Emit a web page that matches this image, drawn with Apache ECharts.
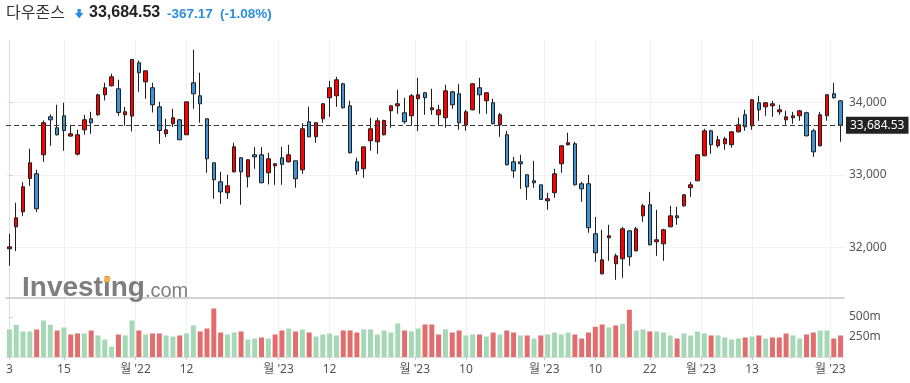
<!DOCTYPE html>
<html><head><meta charset="utf-8">
<script src="https://cdn.jsdelivr.net/npm/echarts@6/dist/echarts.min.js"></script>
<style>html,body{margin:0;padding:0;background:#fff}#c{width:910px;height:383px}</style>
</head><body><div id="c"></div>
<script>
// ---------- data ----------
const dates = [
'2022-11-03','2022-11-04','2022-11-07','2022-11-08','2022-11-09','2022-11-10','2022-11-11','2022-11-14','2022-11-15','2022-11-16','2022-11-17','2022-11-18','2022-11-21','2022-11-22','2022-11-23','2022-11-25','2022-11-28','2022-11-29','2022-11-30',
'2022-12-01','2022-12-02','2022-12-05','2022-12-06','2022-12-07','2022-12-08','2022-12-09','2022-12-12','2022-12-13','2022-12-14','2022-12-15','2022-12-16','2022-12-19','2022-12-20','2022-12-21','2022-12-22','2022-12-23','2022-12-27','2022-12-28','2022-12-29','2022-12-30',
'2023-01-03','2023-01-04','2023-01-05','2023-01-06','2023-01-09','2023-01-10','2023-01-11','2023-01-12','2023-01-13','2023-01-17','2023-01-18','2023-01-19','2023-01-20','2023-01-23','2023-01-24','2023-01-25','2023-01-26','2023-01-27','2023-01-30','2023-01-31',
'2023-02-01','2023-02-02','2023-02-03','2023-02-06','2023-02-07','2023-02-08','2023-02-09','2023-02-10','2023-02-13','2023-02-14','2023-02-15','2023-02-16','2023-02-17','2023-02-21','2023-02-22','2023-02-23','2023-02-24','2023-02-27','2023-02-28',
'2023-03-01','2023-03-02','2023-03-03','2023-03-06','2023-03-07','2023-03-08','2023-03-09','2023-03-10','2023-03-13','2023-03-14','2023-03-15','2023-03-16','2023-03-17','2023-03-20','2023-03-21','2023-03-22','2023-03-23','2023-03-24','2023-03-27','2023-03-28','2023-03-29','2023-03-30','2023-03-31',
'2023-04-03','2023-04-04','2023-04-05','2023-04-06','2023-04-10','2023-04-11','2023-04-12','2023-04-13','2023-04-14','2023-04-17','2023-04-18','2023-04-19','2023-04-20','2023-04-21','2023-04-24','2023-04-25','2023-04-26','2023-04-27','2023-04-28',
'2023-05-01','2023-05-02'];

const opens = [31979,32282,32489,32949,33014,33276,33800,33649,33814,33534,33285,33621,33773,33828,34104,34228,34187,33828,33810,
34546,34283,34201,33938,33566,33704,33759,33552,34270,34090,33773,33166,32903,32752,33041,33235,32972,33276,33276,33028,33124,
33235,33179,33193,33069,33731,33524,33773,34063,34090,34256,33952,33179,33083,33469,33455,33552,33883,33952,33856,33814,
34049,34132,33897,33828,33787,34145,34118,33690,33897,34201,34021,33994,33690,33552,33179,33179,33000,32917,32862,
32641,32752,33152,33414,33428,32876,32876,32186,31634,32131,31772,31841,32227,31951,32434,32586,32075,32048,32282,32434,32572,32821,32917,
33262,33607,33400,33428,33414,33593,33828,33676,33994,33938,33952,33869,33759,33787,33814,33856,33607,33400,33814,
34118,34021];
const closes = [32006,32407,32834,33166,32531,33718,33759,33552,33612,33566,33552,33759,33718,34104,34201,34352,33860,33870,34592,
34408,34435,33966,33612,33620,33787,33483,34007,34118,33980,33221,32931,32765,32848,33386,33041,33207,33248,32890,33221,33152,
33145,33276,32945,33635,33524,33718,33980,34201,34311,33925,33304,33055,33386,33635,33745,33750,33952,33980,33731,34090,
34104,34063,33925,33897,34159,33966,33718,33869,34256,34104,34132,33704,33828,33138,33055,33152,32834,32890,32660,
32669,33014,33400,33442,32862,32807,32269,31924,31827,32158,31882,32255,31868,32255,32572,32034,32103,32241,32434,32407,32724,32862,33276,
33607,33414,33483,33497,33593,33690,33662,34035,33897,33994,33980,33897,33800,33814,33883,33538,33317,33828,34104,
34063,33684.53];
const lows = [31744,31947,32430,32848,32485,33179,33400,33543,33331,33529,33267,33552,33566,33814,34026,34219,33814,33676,33598,
34145,34049,33860,33428,33520,33658,33483,33552,33911,33718,33028,32669,32600,32669,33032,32586,32825,33083,32885,32867,32862,
32862,33170,32821,33014,33520,33442,33718,33800,33938,33915,33294,33000,32959,33331,33290,33543,33649,33842,33704,33676,
33603,33828,33828,33690,33649,33911,33621,33607,33888,33842,33842,33695,33524,33129,32959,32807,32655,32821,32655,
32517,32683,33028,33405,32853,32627,32200,31799,31625,31813,31551,31579,31744,31942,32351,32025,31882,31813,32278,32310,32558,32696,32913,
33258,33290,33373,33345,33373,33584,33607,33621,33745,33814,33800,33828,33690,33704,33745,33529,33248,33391,33745,
34049,33455];
const highs = [32186,32614,32899,33359,33069,33750,33833,33966,33994,33690,33621,33828,33869,34118,34270,34394,34311,33938,34592,
34578,34440,34270,34007,33773,33911,33768,34007,34725,34408,33773,33166,33041,33000,33442,33244,33216,33382,33382,33304,33161,
33386,33414,33193,33713,33938,33727,33989,34297,34352,34270,34021,33235,33386,33787,33787,33759,33957,34173,34063,34118,
34339,34141,34187,33966,34242,34159,34256,33897,34265,34339,34141,34049,33856,33607,33248,33276,33009,33193,32862,
32752,33083,33409,33580,33455,32903,33000,32420,32241,32310,31910,32282,32236,32282,32600,32765,32517,32255,32572,32558,32733,32903,33285,
33635,33621,33538,33524,33603,33787,33897,34044,34090,34003,34021,33966,33883,33869,33897,33869,33635,33869,34113,
34270,34030];
// volume, millions
const volumes = [344,402,319,319,344,456,402,331,369,281,294,294,331,269,219,127,281,269,456,
331,281,294,294,269,256,269,294,394,319,356,606,306,281,306,319,219,231,244,231,281,
331,356,319,344,306,256,281,294,269,331,331,306,344,344,281,331,306,419,331,319,
356,406,406,281,344,306,331,269,281,281,256,306,281,331,306,269,269,231,269,
281,306,281,306,281,231,306,377,406,369,394,415,590,331,344,319,319,306,269,231,294,269,319,
294,269,269,244,219,231,244,256,269,231,244,244,294,269,231,281,306,331,331,
231,269];

const priceTicks = [32000, 33000, 34000];
const volumeTicks = [250, 500];
// tick positions on the date index (half values sit on month boundaries)
const xTickPos  = [0, 8, 18.5, 26, 39.5, 47, 59.5, 67, 78.5, 86, 94, 101.5, 109, 120.5];
const xTickText = ['3','15',"월 '22",'12',"월 '23",'12',"월 '23",'10',"월 '23",'10','22',"월 '23",'13',"월 '23"];

const instrumentName = '다우존스';
const lastPrice = 33684.53;
const priceChange = -367.17;
const pctChange = -1.08;

// ---------- chart ----------
const UP = '#ff0000', DOWN = '#3f94d6';
const VOL_UP = '#a6d7b6', VOL_DOWN = '#e26d6d';
const FONT = "'Noto Sans','Noto Sans CJK KR',sans-serif";
const fmt = v => v.toLocaleString('en-US');

const candleData = dates.map((d, i) => [opens[i], closes[i], lows[i], highs[i]]);
const volData = volumes.map((v, i) => ({
  value: v,
  itemStyle: { color: (i === 0 || closes[i] >= closes[i - 1]) ? VOL_UP : VOL_DOWN }
}));
const n = dates.length;

// text measuring for the watermark logo
const mctx = document.createElement('canvas').getContext('2d');
const LOGO_FONT = "bold 28px 'Liberation Sans'";
mctx.font = LOGO_FONT;
const logoX = 22;
const wInvesting = mctx.measureText('Investing').width;
const wInvest = mctx.measureText('Invest').width;
const wI = mctx.measureText('i').width;
const dotCx = logoX + wInvest + wI / 2;

const chart = echarts.init(document.getElementById('c'), null, { renderer: 'canvas' });
chart.setOption({
  animation: false,
  backgroundColor: '#fff',
  grid: [
    { left: 6, right: 66, top: 40, height: 258 },
    { left: 6, right: 66, top: 298, height: 59 }
  ],
  xAxis: [
    { type: 'category', gridIndex: 0, data: dates, boundaryGap: true,
      axisLine: { show: true, lineStyle: { color: '#c6c6c6', width: 1.5 } },
      axisTick: { show: false }, axisLabel: { show: false }, splitLine: { show: false } },
    { type: 'category', gridIndex: 1, data: dates, boundaryGap: true,
      axisLine: { show: true, lineStyle: { color: '#dcdcdc' } },
      axisTick: { show: false }, axisLabel: { show: false }, splitLine: { show: false } },
    { type: 'value', gridIndex: 0, min: -0.5, max: n - 0.5,
      axisLine: { show: false },
      axisTick: { show: false, customValues: xTickPos },
      axisLabel: { show: false, customValues: xTickPos },
      splitLine: { show: true, lineStyle: { color: '#f1f1f1' } } },
    { type: 'value', gridIndex: 1, min: -0.5, max: n - 0.5, position: 'bottom',
      axisLine: { show: false },
      axisTick: { show: true, length: 3, customValues: xTickPos, lineStyle: { color: '#c8c8c8' } },
      axisLabel: { show: true, customValues: xTickPos, color: '#555', fontSize: 12, fontFamily: FONT, margin: 7,
        formatter: v => { const k = xTickPos.findIndex(p => Math.abs(p - v) < 1e-6); return k >= 0 ? xTickText[k] : ''; } },
      splitLine: { show: true, lineStyle: { color: '#f1f1f1' } } }
  ],
  yAxis: [
    { type: 'value', gridIndex: 0, position: 'right', min: 31300, max: 34860, scale: true,
      axisLine: { show: true, lineStyle: { color: '#dedede' } },
      axisTick: { show: true, length: 3, customValues: priceTicks, lineStyle: { color: '#c8c8c8' } },
      axisLabel: { customValues: priceTicks, color: '#555', fontSize: 12, fontFamily: FONT, margin: 5, formatter: v => fmt(v) },
      splitLine: { show: true, lineStyle: { color: '#f1f1f1' } } },
    { type: 'value', gridIndex: 1, position: 'right', min: 0, max: 737,
      axisLine: { show: true, lineStyle: { color: '#dedede' } },
      axisTick: { show: true, length: 3, customValues: volumeTicks, lineStyle: { color: '#c8c8c8' } },
      axisLabel: { customValues: volumeTicks, color: '#555', fontSize: 12, fontFamily: FONT, margin: 5, formatter: v => v + 'm' },
      splitLine: { show: false } }
  ],
  series: [
    { type: 'candlestick', xAxisIndex: 0, yAxisIndex: 0, data: candleData, barWidth: 4,
      itemStyle: { color: UP, color0: DOWN, borderColor: '#1e1e1e', borderColor0: '#1e1e1e', borderWidth: 1 },
      markLine: { silent: true, symbol: 'none', animation: false,
        lineStyle: { type: [5, 3], color: '#3a3a3a', width: 1 },
        label: { position: 'end', distance: 2, formatter: () => fmt(lastPrice), color: '#fff', backgroundColor: '#222',
          fontSize: 12, fontFamily: FONT, padding: [3, 4, 2, 4] },
        data: [{ yAxis: lastPrice }] } },
    { type: 'bar', xAxisIndex: 1, yAxisIndex: 1, data: volData, barWidth: 5 }
  ],
  graphic: [
    { type: 'text', left: 6, top: 4, z: 100, style: { text: instrumentName, font: "16px 'Noto Sans CJK KR'", fill: '#333' } },
    { type: 'polygon', z: 100, shape: { points: [[77.5,9],[80.8,9],[80.8,13],[83.3,13],[79.2,18.5],[75,13],[77.5,13]] }, style: { fill: '#2a8de0' } },
    { type: 'text', left: 89, top: 5, z: 100, style: { text: fmt(lastPrice), font: "bold 16px 'Liberation Sans'", fill: '#222' } },
    { type: 'text', left: 167, top: 7, z: 100, style: { text: priceChange.toFixed(2), font: "bold 13.5px 'Liberation Sans'", fill: '#2a8de0' } },
    { type: 'text', left: 220, top: 7, z: 100, style: { text: '(' + pctChange.toFixed(2) + '%)', font: "bold 13.5px 'Liberation Sans'", fill: '#2a8de0' } },
    { type: 'text', x: logoX, y: 288.5, z: 100, style: { text: 'Investing', font: LOGO_FONT, fill: '#7e7e7e', verticalAlign: 'middle' } },
    { type: 'text', x: logoX + wInvesting, y: 291, z: 100, style: { text: '.com', font: "20px 'Liberation Sans'", fill: '#7e7e7e', verticalAlign: 'middle' } },
    { type: 'polygon', z: 101, shape: { points: [[dotCx - 2.5, 276.8],[dotCx + 3.5, 276.3],[dotCx + 3, 282],[dotCx - 3, 282]] }, style: { fill: '#f8b04a' } }
  ]
});
</script></body></html>
